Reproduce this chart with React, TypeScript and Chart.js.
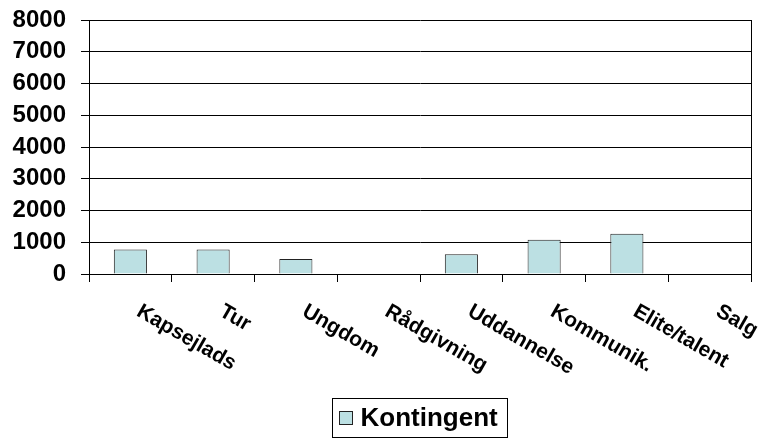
import React, { useEffect, useRef } from "react";
import { Chart, registerables } from "chart.js";

Chart.register(...registerables);

const categories: string[] = [
  "Kapsejlads",
  "Tur",
  "Ungdom",
  "Rådgivning",
  "Uddannelse",
  "Kommunik.",
  "Elite/talent",
  "Salg",
];
const seriesName = "Kontingent";
const kontingent: number[] = [775, 775, 475, 0, 625, 1075, 1270, 0];
const yMin = 0;
const yMax = 8000;
const yStep = 1000;

const FONT = '"Liberation Sans", Arial, Helvetica, sans-serif';
const BAR_FILL = "#BCE0E3";
const BAR_EDGE = "#222222";

const overlayPlugin = {
  id: "overlay",
  afterDraw(chart: any) {
    const ctx = chart.ctx as CanvasRenderingContext2D;
    const area = chart.chartArea;
    const xs = chart.scales.x;
    ctx.save();
    ctx.strokeStyle = "#000";
    ctx.lineWidth = 1;
    ctx.beginPath();
    ctx.moveTo(Math.round(area.right) + 0.5, area.top);
    ctx.lineTo(Math.round(area.right) + 0.5, area.bottom);
    ctx.stroke();

    ctx.font = `bold 21px ${FONT}`;
    ctx.fillStyle = "#000";
    ctx.textAlign = "left";
    ctx.textBaseline = "alphabetic";
    (chart.data.labels as string[]).forEach((lab, i) => {
      const x = xs.getPixelForValue(i);
      ctx.save();
      ctx.translate(x + 5, area.bottom + 41);
      ctx.rotate(Math.PI / 6);
      ctx.fillText(lab, 0, 0);
      ctx.restore();
    });

    const ds = chart.data.datasets[0];
    ctx.font = `bold 26px ${FONT}`;
    const tw = ctx.measureText(ds.label).width;
    const marker = 13;
    const boxW = 7 + marker + 8 + tw + 10;
    const boxH = 39;
    const cx = (area.left + area.right) / 2;
    const bx = Math.round(cx - boxW / 2) + 0.5;
    const by = 398.5;
    ctx.strokeStyle = "#000";
    ctx.lineWidth = 1;
    ctx.strokeRect(bx, by, Math.round(boxW), boxH);
    ctx.fillStyle = ds.backgroundColor;
    ctx.fillRect(bx + 7, by + 13, marker, marker);
    ctx.strokeStyle = BAR_EDGE;
    ctx.strokeRect(bx + 7, by + 13, marker, marker);
    ctx.fillStyle = "#000";
    ctx.textBaseline = "middle";
    ctx.fillText(ds.label, bx + 7 + marker + 8, by + boxH / 2 + 1);
    ctx.restore();
  },
};

export default function App() {
  const ref = useRef<HTMLCanvasElement | null>(null);
  useEffect(() => {
    document.body.style.margin = "0";
    const canvas = ref.current;
    if (!canvas) return;
    const chart = new Chart(canvas, {
      type: "bar",
      data: {
        labels: categories,
        datasets: [
          {
            label: seriesName,
            data: kontingent,
            backgroundColor: BAR_FILL,
            borderColor: BAR_EDGE,
            borderWidth: 1,
            barPercentage: 0.4,
            categoryPercentage: 1,
          },
        ],
      },
      options: {
        responsive: false,
        animation: false,
        layout: { padding: { top: 20, right: 9, bottom: 0, left: 0 } },
        plugins: {
          legend: { display: false },
          tooltip: { enabled: false },
        },
        scales: {
          x: {
            afterFit: (s: any) => {
              s.height = 167;
              s.paddingLeft = 0;
              s.paddingRight = 0;
            },
            ticks: { display: false },
            grid: {
              offset: true,
              drawOnChartArea: false,
              drawTicks: true,
              tickLength: 8,
              color: "#000",
            },
            border: { display: true, color: "#000", width: 1 },
          },
          y: {
            min: yMin,
            max: yMax,
            afterFit: (s: any) => {
              s.width = 89;
              s.paddingTop = 0;
              s.paddingBottom = 0;
            },
            ticks: {
              stepSize: yStep,
              autoSkip: false,
              padding: 15,
              color: "#000",
              font: { family: FONT, size: 24, weight: "bold", lineHeight: 1 },
              callback: (v: any) => String(v),
            },
            grid: {
              color: "#000",
              lineWidth: 1,
              drawTicks: true,
              tickLength: 8,
            },
            border: { display: true, color: "#000", width: 1 },
          },
        },
      },
      plugins: [overlayPlugin],
    });
    return () => chart.destroy();
  }, []);
  return (
    <div style={{ position: "absolute", left: 0, top: 0, width: 760, height: 441 }}>
      <canvas ref={ref} width={760} height={441} />
    </div>
  );
}
